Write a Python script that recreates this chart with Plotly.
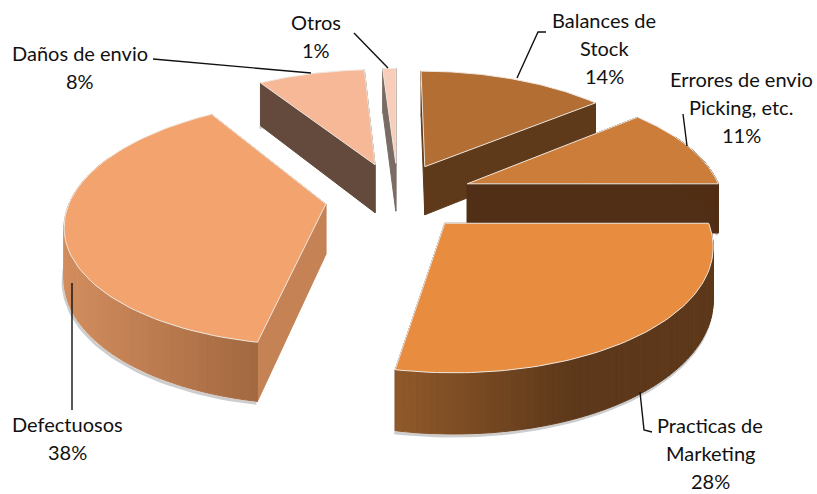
import numpy as np
import plotly.graph_objects as go

# Cost shares, clockwise from twelve o'clock
categories = ["Balances de Stock", "Errores de envio Picking, etc.", "Practicas de Marketing",
              "Defectuosos", "Daños de envio", "Otros"]
values = [14, 11, 28, 38, 8, 1]
explosion = [0.285, 0.31, 0.29, 0.27, 0.29, 0.29]
shift_x = [1, 0, 2, 0, 3, 4]
shift_y = [0, 0, 0, 2, 0, 0]

top_colors = ["#B26E33", "#CC7D3A", "#E88C40", "#F3A36E", "#F6B897", "#F8CDB9"]
side_colors = ["#5E3A1A", "#512F16", "#5D381A", "#C48255", "#634A3C", "#7A6C64"]
wall_left = ["#5E3A1A", "#512F16", "#90592A", "#D28D5E", "#634A3C", "#7A6C64"]
wall_right = ["#5E3A1A", "#512F16", "#5D381A", "#A26840", "#634A3C", "#7A6C64"]

label_lines = [["Balances de", "Stock"], ["Errores de envio", "Picking, etc."],
               ["Practicas de", "Marketing"], ["Defectuosos"], ["Daños de envio"], ["Otros"]]
label_x = [604, 741, 710, 67, 80, 316]
label_y = [20, 79, 425, 424, 53, 22]
line_gap = 28
leaders = [([517, 538, 546], [78, 32, 32]), ([687, 683], [146, 114]),
           ([640, 644, 652], [392, 430, 432]), ([72, 72], [283, 410]),
           ([311, 153], [73, 59]), ([388, 354], [68, 33])]

# Perspective projection of the pie plane
CX, CY = 394, 196
SCALE_X, SCALE_Y, DEPTH, THICK = 255, 118, 0.15, 50


def project(gx, gy, drop=0.0):
    w = 1 + DEPTH * np.asarray(gy)
    return CX + SCALE_X * np.asarray(gx) / w, CY - (SCALE_Y * np.asarray(gy) - THICK * drop) / w


def mix(a, b, t):
    ca = [int(a[i:i + 2], 16) for i in (1, 3, 5)]
    cb = [int(b[i:i + 2], 16) for i in (1, 3, 5)]
    return "rgb(%d,%d,%d)" % tuple(round(p + (q - p) * t) for p, q in zip(ca, cb))


fig = go.Figure()


def poly(x, y, fill, line=None, width=1.0):
    fig.add_trace(go.Scatter(x=list(x), y=list(y), mode="lines", fill="toself", fillcolor=fill,
                             line=dict(color=line or fill, width=width), hoverinfo="skip",
                             showlegend=False))


edges = np.radians(np.concatenate([[0], np.cumsum(values) * 3.6]))
# Painter's order: farthest wedges first
for i in [5, 4, 0, 1, 3, 2]:
    a0, a1 = edges[i], edges[i + 1]
    mid = (a0 + a1) / 2
    ox, oy = explosion[i] * np.sin(mid), explosion[i] * np.cos(mid)
    nx, ny = shift_x[i], shift_y[i]
    arc = np.linspace(a0, a1, 80)
    gx = np.concatenate([[ox], ox + np.sin(arc), [ox]])
    gy = np.concatenate([[oy], oy + np.cos(arc), [oy]])

    # Soft shadow under the lower rim
    sx, sy = project(gx[1:-1], gy[1:-1], 1.0)
    fig.add_trace(go.Scatter(x=sx - 1 + nx, y=sy + 2 + ny, mode="lines",
                             line=dict(color="rgba(90,90,90,0.3)", width=3),
                             hoverinfo="skip", showlegend=False))

    # Straight walls from the apex out to each end of the arc
    for a in (a0, a1):
        ex, ey = ox + np.sin(a), oy + np.cos(a)
        tx, ty = project([ox, ex], [oy, ey], 0.0)
        bx, by = project([ox, ex], [oy, ey], 1.0)
        tx, bx, ty, by = tx + nx, bx + nx, ty + ny, by + ny
        poly([tx[0], tx[1], bx[1], bx[0], tx[0]], [ty[0], ty[1], by[1], by[0], ty[0]], side_colors[i])

    # Curved outer wall, shaded across its visible width
    tx, ty = project(gx[1:-1], gy[1:-1], 0.0)
    bx, by = project(gx[1:-1], gy[1:-1], 1.0)
    tx, bx, ty, by = tx + nx, bx + nx, ty + ny, by + ny
    front = np.nonzero((np.cos(arc) < 0.15) | (np.abs(np.sin(arc)) > 0.9))[0]
    if len(front) > 1:
        xmin, xmax = tx[front].min(), tx[front].max()
        for j in range(front[0], front[-1]):
            t = (0.5 * (tx[j] + tx[j + 1]) - xmin) / max(xmax - xmin, 1)
            t = min(max(t, 0), 1)
            if i == 2:
                t = min(t / 0.55, 1)
            poly([tx[j], tx[j + 1], bx[j + 1], bx[j], tx[j]], [ty[j], ty[j + 1], by[j + 1], by[j], ty[j]],
                 mix(wall_left[i], wall_right[i], t))

    # Top face with a pale bevelled rim
    px, py = project(gx, gy, 0.0)
    poly(px + nx, py + ny, top_colors[i], line="#EFE7DF", width=1.0)

# Leader lines and labels
for (lx, ly) in leaders:
    fig.add_trace(go.Scatter(x=lx, y=ly, mode="lines", line=dict(color="#111111", width=1.4),
                             hoverinfo="skip", showlegend=False))

for lines, val, x, y in zip(label_lines, values, label_x, label_y):
    for n, text in enumerate(lines + [f"{val}%"]):
        fig.add_annotation(x=x, y=y + n * line_gap, text=text, showarrow=False, xanchor="center", yanchor="middle",
                           font=dict(family="Lato", size=20, color="#111111"))

fig.update_layout(width=817, height=494, margin=dict(l=0, r=0, t=0, b=0), paper_bgcolor="white",
                  plot_bgcolor="white",
                  xaxis=dict(range=[0, 817], visible=False, fixedrange=True),
                  yaxis=dict(range=[494, 0], visible=False, fixedrange=True))
fig.write_html("out.html", config=dict(displayModeBar=False))
